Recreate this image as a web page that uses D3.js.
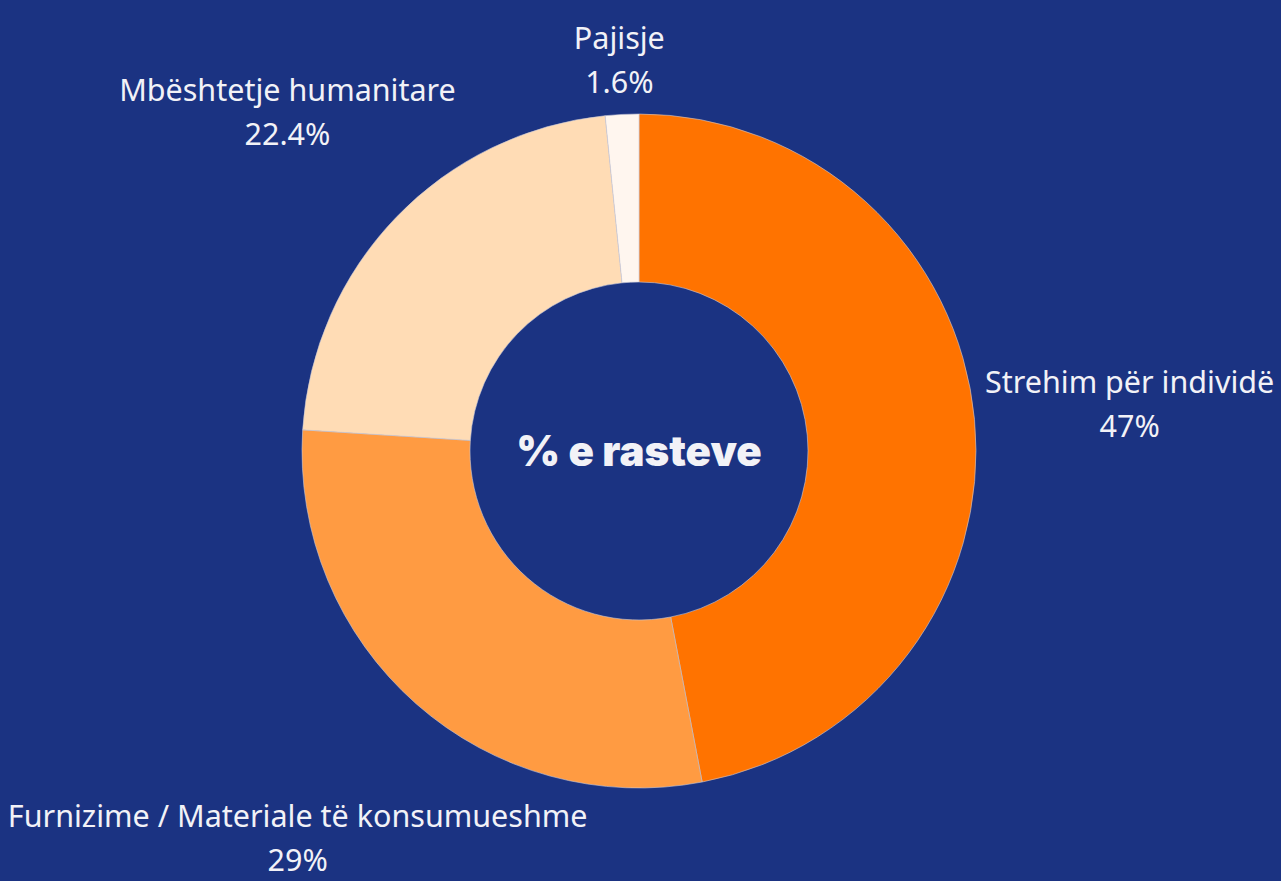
<!DOCTYPE html>
<html><head><meta charset="utf-8">
<script src="https://cdn.jsdelivr.net/npm/d3@7"></script>
<style>
html,body{margin:0;padding:0;background:#1b3382;overflow:hidden}
svg{display:block}
</style></head>
<body>
<svg id="chart" width="1281" height="881"></svg>
<script>
const categories = ["Strehim për individë", "Furnizime / Materiale të konsumueshme", "Mbështetje humanitare", "Pajisje"];
const values = [47, 29, 22.4, 1.6];
const valueLabels = ["47%", "29%", "22.4%", "1.6%"];
const colors = ["#ff7300", "#ff9b42", "#ffdcb5", "#fff6ef"];
const centerTitle = "% e rasteve";

const W = 1281, H = 881;
const cx = 639, cy = 451, R = 337, r0 = 169;
const svg = d3.select("#chart");
svg.append("rect").attr("width", W).attr("height", H).attr("fill", "#1b3382");
const g = svg.append("g").attr("transform", `translate(${cx},${cy})`);

const pie = d3.pie().sort(null).value(d => d)(values);
const arc = d3.arc().innerRadius(r0).outerRadius(R);
g.selectAll("path.slice").data(pie).join("path")
  .attr("class", "slice")
  .attr("d", arc)
  .attr("fill", (d, i) => colors[i])
  .attr("stroke", "#c9c9d6").attr("stroke-width", 0.6);

g.append("text").text(centerTitle)
  .attr("x", 0).attr("y", 0).attr("dy", "0.35em")
  .attr("text-anchor", "middle")
  .attr("font-family", "Inter, 'Open Sans', sans-serif")
  .attr("font-weight", 900).attr("font-size", 42)
  .attr("fill", "#f2f2f7");

const fontSize = 30.5;
const lineGap = 44;
const clearR = 346;
pie.forEach((d, i) => {
  const lg = g.append("g");
  const t1 = lg.append("text").text(categories[i]).attr("y", -lineGap / 2).attr("dy", "0.35em");
  const t2 = lg.append("text").text(valueLabels[i]).attr("y", lineGap / 2).attr("dy", "0.35em");
  lg.selectAll("text").attr("text-anchor", "middle")
    .attr("font-family", "'Noto Sans', sans-serif").attr("font-size", fontSize)
    .attr("fill", "#f2f2f7");
  const w = Math.max(t1.node().getComputedTextLength(), t2.node().getComputedTextLength()) / 2;
  const h = 45;
  const a = (d.startAngle + d.endAngle) / 2;
  const ux = Math.sin(a), uy = -Math.cos(a);
  let lo = 0, hi = 1000;
  for (let k = 0; k < 50; k++) {
    const t = (lo + hi) / 2;
    const dx = Math.max(0, Math.abs(t * ux) - w), dy = Math.max(0, Math.abs(t * uy) - h);
    if (Math.hypot(dx, dy) < clearR) lo = t; else hi = t;
  }
  lg.attr("transform", `translate(${hi * ux},${hi * uy})`);
});
</script>
</body></html>
